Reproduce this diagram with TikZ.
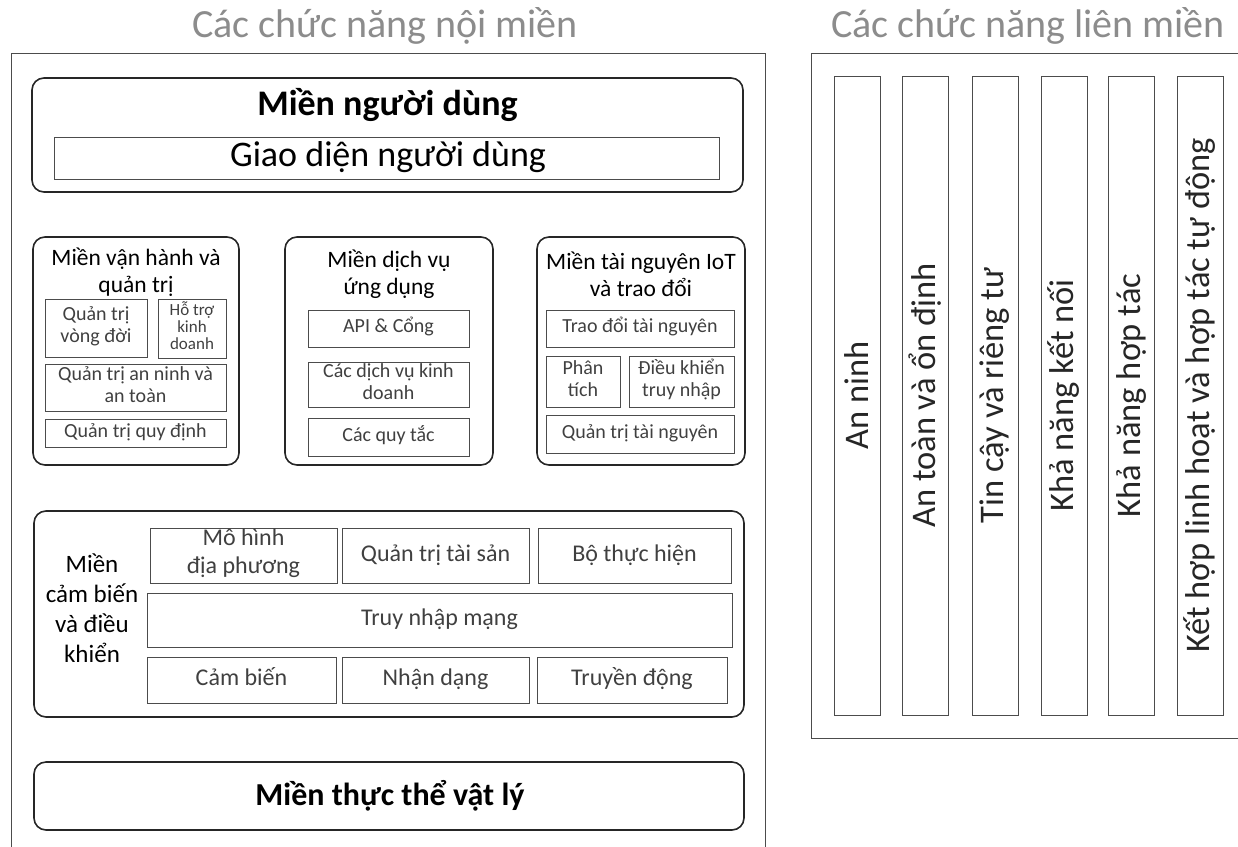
\documentclass[tikz,border=0pt]{standalone}
\usepackage{fontspec}
\setmainfont{Carlito}
\usetikzlibrary{positioning}

\begin{document}
\begin{tikzpicture}[x=1pt, y=-1pt]
        \tikzset{outerframe/.style = {draw=black!70, line width=1pt}}
        \tikzset{dombox/.style = {draw=black!85, line width=1.6pt, rounded corners=12pt, inner sep=0pt}}
        \tikzset{part/.style = {draw=black!70, line width=1pt, inner sep=0pt, align=center, text=black!75,
                font=\fontsize{20}{22}\selectfont, execute at begin node=\strut, execute at end node=\strut}}
        \tikzset{wh/.style 2 args = {minimum width=#1pt, minimum height=#2pt}}
        \tikzset{bigtitle/.style = {anchor=base, text=black!45, font=\fontsize{40}{44}\selectfont}}
        \tikzset{domtitle/.style = {align=center, font=\fontsize{23.5}{27}\selectfont}}
        \tikzset{colbox/.style = {draw=black!70, line width=1pt, inner sep=0pt, minimum width=46pt,
                minimum height=639pt}}
        \tikzset{coltext/.style = {rotate=90, text=black!85, font=\fontsize{34.5}{38}\selectfont}}

        \useasboundingbox (0,0) rectangle (1238,846);

        % titles and frames
        \node[bigtitle] (ttin) at (385,37) {Các chức năng nội miền};
        \node[bigtitle] (ttcross) at (1028,37) {Các chức năng liên miền};
        \draw[outerframe] (11,53) rectangle (765,870);
        \draw[outerframe] (811,53) rectangle (1260,738);

        % user domain
        \node[dombox, wh={711}{114}] (user) at (387.5,135) {};
        \node[anchor=base, font=\fontsize{36}{40}\bfseries] (usertitle) at (387.5,115) {Miền người dùng};
        \node[part, wh={665}{42}] (ui) at (386.5,158) {};
        \node[anchor=base, font=\fontsize{36}{40}\selectfont] (uitext) at (388,166) {Giao diện người dùng};

        % operations and management
        \node[dombox, wh={206}{228}] (ops) at (136,351) {};
        \node[domtitle] (opstitle) at (136,272) {Miền vận hành và\\quản trị};
        \node[part, wh={102}{58}] (life) at (96,328) {Quản trị\\vòng đời};
        \node[part, wh={68}{59}, font=\fontsize{17}{17}\selectfont] (biz) at (192,328.5) {Hỗ trợ\\kinh\\doanh};
        \node[part, wh={181}{47}] (secmgmt) at (135.5,387.5) {Quản trị an ninh và\\an toàn};
        \node[part, wh={181}{28}] (regmgmt) at (135.5,433) {Quản trị quy định};

        % application and service
        \node[dombox, wh={208}{228}] (app) at (389,351) {};
        \node[domtitle] (apptitle) at (389,274) {Miền dịch vụ\\ứng dụng};
        \node[part, wh={161}{37}] (api) at (388.5,328.5) {API \& Cổng};
        \node[part, wh={161}{45}] (bizsvc) at (388.5,384.5) {Các dịch vụ kinh\\doanh};
        \node[part, wh={161}{38}] (rules) at (388.5,437) {Các quy tắc};

        % resource access and interchange
        \node[dombox, wh={208}{228}] (res) at (641,351) {};
        \node[domtitle] (restitle) at (641,274) {Miền tài nguyên IoT\\và trao đổi};
        \node[part, wh={188}{37}] (exch) at (640,328.5) {Trao đổi tài nguyên};
        \node[part, wh={74}{51}] (anal) at (583,381.5) {Phân\\tích};
        \node[part, wh={105}{51}] (acc) at (681.5,381.5) {Điều khiển\\truy nhập};
        \node[part, wh={188}{38}] (resmgmt) at (640,434) {Quản trị tài nguyên};

        % sensing and controlling
        \tikzset{sense/.style = {part, font=\fontsize{24}{28}\selectfont}}
        \node[dombox, wh={710}{206}] (sensing) at (389,614) {};
        \node[align=center, font=\fontsize{25}{30}\selectfont] (senselabel) at (92,608) {Miền\\cảm biến\\và điều\\khiển};
        \node[sense, wh={187}{55}] (local) at (243.5,555.5) {Mô hình\\địa phương};
        \node[sense, wh={187}{55}] (asset) at (435.5,555.5) {Quản trị tài sản};
        \node[sense, wh={193}{55}] (exec) at (634.5,555.5) {Bộ thực hiện};
        \node[sense, wh={585}{54}] (net) at (439.5,620) {Truy nhập mạng};
        \node[sense, wh={189}{46}] (sensor) at (241.5,680) {Cảm biến};
        \node[sense, wh={187}{46}] (ident) at (435.5,680) {Nhận dạng};
        \node[sense, wh={190}{46}] (act) at (632,680) {Truyền động};

        % physical entity
        \node[dombox, wh={710}{68}] (phys) at (389,796) {};
        \node[anchor=base, font=\fontsize{32}{36}\bfseries] (physlabel) at (390,805) {Miền thực thể vật lý};

        % cross-domain columns
        \node[colbox] (security) at (857,395.5) {};
        \node[colbox] (safety) at (925.5,395.5) {};
        \node[colbox] (trust) at (995,395.5) {};
        \node[colbox] (connect) at (1064,395.5) {};
        \node[colbox] (collab) at (1131.5,395.5) {};
        \node[colbox] (auto) at (1200,395.5) {};
        \node[coltext] at (security) {An ninh};
        \node[coltext] at (safety) {An toàn và ổn định};
        \node[coltext] at (trust) {Tin cậy và riêng tư};
        \node[coltext] at (connect) {Khả năng kết nối};
        \node[coltext] at (collab) {Khả năng hợp tác};
        \node[coltext] at (auto) {Kết hợp linh hoạt và hợp tác tự động};

    \end{tikzpicture}
\end{document}
